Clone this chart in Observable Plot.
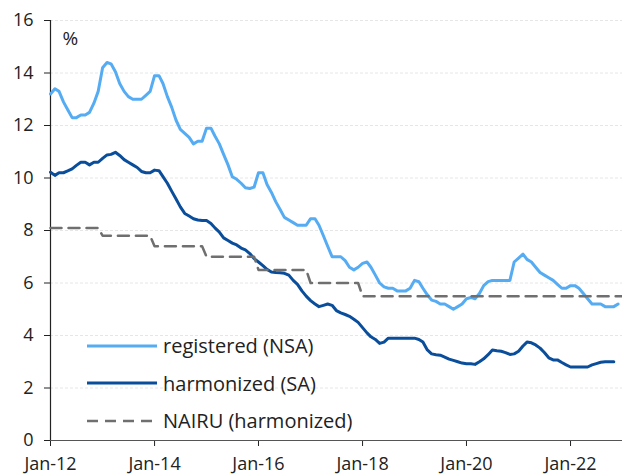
<!DOCTYPE html>
<html><head><meta charset="utf-8">
<script src="https://cdn.jsdelivr.net/npm/d3@7"></script>
<script src="https://cdn.jsdelivr.net/npm/@observablehq/plot@0.6"></script>
<style>
body{margin:0;background:#fff;font-family:"Open Sans",Lato,sans-serif;}
#wrap{position:relative;width:622px;height:476px;}
#legend{position:absolute;left:87px;top:327px;font-size:20px;color:#222;}
.item{display:flex;align-items:center;height:37.5px;}
.item svg{margin-right:6px;}
</style></head><body>
<div id="wrap"><div id="legend"></div></div>
<script>
const startYear = 2012;
const registered = [
13.2,13.4,13.3,12.9,12.6,12.3,12.3,12.4,12.4,12.5,12.85,13.3,
14.2,14.4,14.35,14.05,13.6,13.3,13.1,13.0,13.0,13.0,13.15,13.3,
13.9,13.9,13.6,13.1,12.7,12.2,11.85,11.7,11.55,11.3,11.4,11.4,
11.9,11.9,11.6,11.3,10.9,10.5,10.05,9.95,9.8,9.63,9.6,9.65,
10.2,10.2,9.75,9.45,9.1,8.8,8.5,8.4,8.3,8.2,8.2,8.2,
8.45,8.45,8.2,7.8,7.4,7.0,7.0,7.0,6.85,6.6,6.5,6.6,
6.75,6.8,6.6,6.3,6.0,5.85,5.8,5.8,5.7,5.7,5.7,5.8,
6.1,6.05,5.8,5.55,5.35,5.3,5.2,5.2,5.1,5.0,5.1,5.2,
5.4,5.45,5.4,5.6,5.9,6.05,6.1,6.1,6.1,6.1,6.1,6.8,
6.95,7.1,6.9,6.8,6.6,6.4,6.3,6.2,6.1,5.95,5.8,5.8,
5.9,5.9,5.8,5.6,5.4,5.2,5.2,5.2,5.1,5.1,5.1,5.2
];
const harmonized = [
10.22,10.1,10.2,10.2,10.27,10.35,10.48,10.6,10.6,10.5,10.6,10.6,
10.75,10.88,10.9,10.98,10.86,10.7,10.6,10.5,10.4,10.25,10.2,10.2,
10.3,10.28,10.05,9.8,9.5,9.2,8.9,8.65,8.55,8.45,8.4,8.38,
8.38,8.27,8.1,7.94,7.72,7.62,7.52,7.45,7.33,7.26,7.12,6.93,
6.8,6.66,6.52,6.42,6.4,6.39,6.37,6.3,6.1,5.95,5.7,5.5,
5.33,5.2,5.1,5.15,5.2,5.15,4.95,4.86,4.8,4.73,4.62,4.5,
4.3,4.1,3.95,3.85,3.7,3.75,3.9,3.9,3.9,3.9,3.9,3.9,
3.9,3.85,3.75,3.45,3.3,3.27,3.25,3.18,3.1,3.05,3.0,2.95,
2.92,2.92,2.9,3.0,3.11,3.27,3.45,3.42,3.4,3.35,3.28,3.3,
3.4,3.6,3.75,3.72,3.64,3.52,3.35,3.15,3.07,3.07,2.97,2.88,
2.8,2.8,2.8,2.8,2.8,2.88,2.93,2.98,3.0,3.0,3.0
];
const nairuYears = [2012,2013,2014,2015,2016,2017,2018,2019,2020,2021,2022];
const nairuValues = [8.1,7.8,7.4,7.0,6.5,6.0,5.5,5.5,5.5,5.5,5.5];
const xTickYears = [2012,2014,2016,2018,2020,2022];
const yTicks = [0,2,4,6,8,10,12,14,16];
const seriesNames = ["registered (NSA)","harmonized (SA)","NAIRU (harmonized)"];
const colors = {light:"#55acf3", dark:"#0a4e9b", grey:"#6f6f6f"};

const monthDate = i => new Date(Date.UTC(startYear, i, 1));
const regData = registered.map((v,i)=>({date:monthDate(i), value:v}));
const harData = harmonized.map((v,i)=>({date:monthDate(i), value:v}));
const nairuData = [];
nairuYears.forEach((y,k)=>{
  nairuData.push({date:new Date(Date.UTC(y,0,1)), value:nairuValues[k]});
  nairuData.push({date:new Date(Date.UTC(y,11,1)), value:nairuValues[k]});
});
nairuData.push({date:new Date(Date.UTC(nairuYears[nairuYears.length-1]+1,0,1)), value:nairuValues[nairuValues.length-1]});

const x0 = new Date(Date.UTC(2012,0,1)), x1 = new Date(Date.UTC(2023,0,1));
const fmt = d => "Jan-" + String(d.getUTCFullYear()).slice(2);

const chart = Plot.plot({
  width:622, height:476,
  marginLeft:50, marginRight:0, marginTop:20, marginBottom:36,
  style:{fontFamily:"'Open Sans', Lato, sans-serif", fontSize:"18px", color:"#222", background:"#fff"},
  x:{type:"utc", domain:[x0,x1], label:null},
  y:{domain:[0,16], label:null},
  marks:[
    Plot.gridY(yTicks.slice(1), {stroke:"#e6e6e6", strokeOpacity:1, strokeDasharray:"3,2"}),
    Plot.axisY(yTicks, {tickSize:6, tickPadding:11, fontSize:18, stroke:"#222", label:null}),
    Plot.axisX(xTickYears.map(y=>new Date(Date.UTC(y,0,1))), {tickSize:6, tickPadding:11, tickFormat:fmt, fontSize:18, stroke:"#222", label:null}),
    Plot.ruleX([x0], {stroke:"#222", strokeWidth:1.2}),
    Plot.ruleY([0], {stroke:"#555", strokeWidth:1.2}),
    Plot.lineY(harData, {x:"date", y:"value", stroke:colors.dark, strokeWidth:3}),
    Plot.lineY(regData, {x:"date", y:"value", stroke:colors.light, strokeWidth:3}),
    Plot.lineY(nairuData, {x:"date", y:"value", stroke:colors.grey, strokeWidth:2.5, strokeDasharray:"11,7"}),
    Plot.text(["%"], {frameAnchor:"top-left", dx:12, dy:11, fontSize:19, fill:"#222"})
  ]
});
const wrap = document.getElementById("wrap");
wrap.insertBefore(chart, wrap.firstChild);

const legend = document.getElementById("legend");
const styles = [
  {stroke:colors.light, dash:null, w:3},
  {stroke:colors.dark, dash:null, w:3},
  {stroke:colors.grey, dash:"11,7", w:2.5}
];
seriesNames.forEach((name,i)=>{
  const s = styles[i];
  const item = document.createElement("div");
  item.className = "item";
  item.innerHTML = `<svg width="70" height="6"><line x1="0" x2="70" y1="3" y2="3" stroke="${s.stroke}" stroke-width="${s.w}" ${s.dash?`stroke-dasharray="${s.dash}"`:""}/></svg><span>${name}</span>`;
  legend.appendChild(item);
});
</script>
</body></html>
